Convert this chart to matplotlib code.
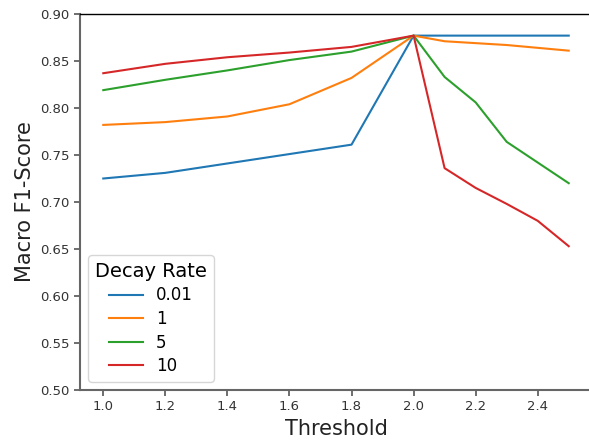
import matplotlib.pyplot as plt
import numpy as np

# 阈值与不同衰减率下的 Macro F1
thresholds = [1.0, 1.2, 1.4, 1.6, 1.8, 2.0, 2.1, 2.2, 2.3, 2.4, 2.5]
decay_labels = ['0.01', '1', '5', '10']
f1_001 = [0.725, 0.731, 0.741, 0.751, 0.761, 0.877, 0.877, 0.877, 0.877, 0.877, 0.877]
f1_1 = [0.782, 0.785, 0.791, 0.804, 0.832, 0.877, 0.871, 0.869, 0.867, 0.864, 0.861]
f1_5 = [0.819, 0.830, 0.840, 0.851, 0.860, 0.877, 0.833, 0.806, 0.764, 0.742, 0.720]
f1_10 = [0.837, 0.847, 0.854, 0.859, 0.865, 0.877, 0.736, 0.715, 0.698, 0.680, 0.653]

series = [f1_001, f1_1, f1_5, f1_10]
colors = ['#1f77b4', '#ff7f0e', '#2ca02c', '#d62728']

fig = plt.figure(figsize=(5.89, 4.41), dpi=100)
ax = fig.add_axes([80 / 589, 51 / 441, 512 / 589, 376 / 441])

for vals, lab, c in zip(series, decay_labels, colors):
    ax.plot(thresholds, vals, color=c, linewidth=1.5, label=lab)

ax.set_ylim(0.5, 0.9)
ax.set_yticks(np.arange(0.5, 0.901, 0.05))
ax.set_xticks([1.0, 1.2, 1.4, 1.6, 1.8, 2.0, 2.2, 2.4])

for side in ['left', 'bottom']:
    ax.spines[side].set_color('#666666')
    ax.spines[side].set_linewidth(1.5)
ax.spines['top'].set_color('black')
ax.spines['top'].set_linewidth(1.0)
ax.tick_params(colors='#333333', labelsize=9.5, width=1.2, length=4)
ax.tick_params(axis='both', color='#555555')

ax.set_xlabel('Threshold', fontsize=15, color='#222222')
ax.set_ylabel('Macro F1-Score', fontsize=15, color='#222222')

leg = ax.legend(title='Decay Rate', loc='lower left', fontsize=12,
                title_fontsize=14, labelspacing=0.33)

plt.savefig('out.png', dpi=100)
